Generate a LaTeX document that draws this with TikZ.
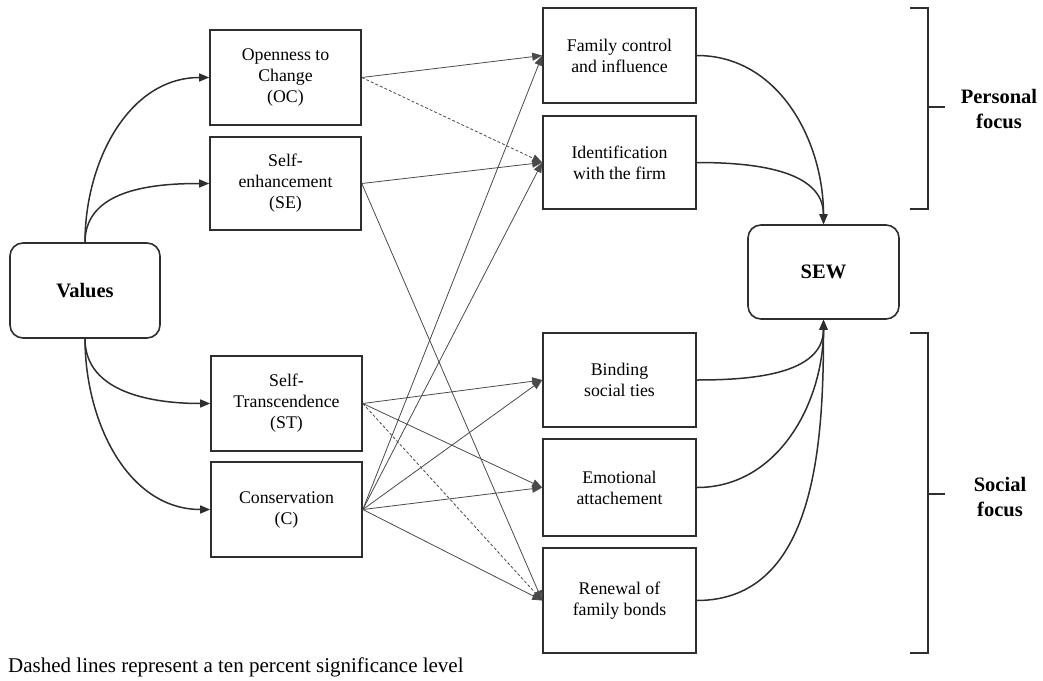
\documentclass[tikz,border=0pt]{standalone}
\usepackage{fontspec}
\setmainfont{Liberation Serif}
\usetikzlibrary{arrows.meta}
\definecolor{linegray}{HTML}{2E2E2E}
\definecolor{thingray}{HTML}{4A4A4A}
\tikzset{
  box/.style={draw=linegray, line width=1.6pt, align=center, inner sep=0pt,
    minimum width=151pt, font=\fontsize{17.8}{21}\selectfont},
  rbox/.style={box, rounded corners=13pt, font=\fontsize{20.5}{24}\selectfont\bfseries},
  thick arrow/.style={draw=linegray, line width=1.5pt, -{Triangle[length=10pt,width=8pt]}},
  thin arrow/.style={draw=thingray, line width=0.8pt, -{Triangle[length=10pt,width=8pt]}},
  dash arrow/.style={thin arrow, dash pattern=on 3pt off 2pt},
  brack/.style={draw=linegray, line width=1.6pt},
  focus/.style={align=center, font=\fontsize{20.5}{25}\selectfont\bfseries}
}
\begin{document}
\begin{tikzpicture}[x=1pt,y=-1pt]
\useasboundingbox (0,0) rectangle (1043,680);
% left column
\node[rbox, minimum width=150pt, minimum height=95pt] (val) at (85,290.5) {Values};
\node[box, minimum height=95pt] (oc) at (285.5,77.5) {Openness to\\Change\\(OC)};
\node[box, minimum height=93pt] (se) at (285.5,183.5) {Self-\\enhancement\\(SE)};
\node[box, minimum height=95pt] (st) at (286.5,403.5) {Self-\\Transcendence\\(ST)};
\node[box, minimum height=95pt] (co) at (286.5,509.5) {Conservation\\(C)};
% middle column
\node[box, minimum width=153pt, minimum height=95pt] (fc) at (619.5,55.5) {Family control\\and influence};
\node[box, minimum width=153pt, minimum height=93pt] (id) at (619.5,162.5) {Identification\\with the firm};
\node[box, minimum width=153pt, minimum height=94pt] (bs) at (619.5,380) {Binding\\social ties};
\node[box, minimum width=153pt, minimum height=97pt] (ea) at (619.5,487.5) {Emotional\\attachement};
\node[box, minimum width=153pt, minimum height=105pt] (rf) at (619.5,600.5) {Renewal of\\family bonds};
% SEW
\node[rbox, minimum width=151pt, minimum height=94pt] (sew) at (823.5,272) {SEW};
% Values to left column
\draw[thick arrow] (val.north) to[out=90,in=180] (oc.west);
\draw[thick arrow] (val.north) to[out=90,in=180] (se.west);
\draw[thick arrow] (val.south) to[out=-90,in=180] (st.west);
\draw[thick arrow] (val.south) to[out=-90,in=180] (co.west);
% left to middle
\draw[thin arrow] (oc.east) -- (fc.west);
\draw[dash arrow] (oc.east) -- (id.west);
\draw[thin arrow] (se.east) -- (id.west);
\draw[thin arrow] (se.east) -- (rf.west);
\draw[thin arrow] (st.east) -- (bs.west);
\draw[thin arrow] (st.east) -- (ea.west);
\draw[dash arrow] (st.east) -- (rf.west);
\draw[thin arrow] (co.east) -- (fc.west);
\draw[thin arrow] (co.east) -- (id.west);
\draw[thin arrow] (co.east) -- (bs.west);
\draw[thin arrow] (co.east) -- (ea.west);
\draw[thin arrow] (co.east) -- (rf.west);
% middle to SEW
\draw[thick arrow] (fc.east) to[out=0,in=90] (sew.north);
\draw[thick arrow] (id.east) to[out=0,in=90] (sew.north);
\draw[thick arrow] (bs.east) to[out=0,in=-90] (sew.south);
\draw[thick arrow] (ea.east) to[out=0,in=-90] (sew.south);
\draw[thick arrow] (rf.east) to[out=0,in=-90] (sew.south);
% brackets
\draw[brack] (910,8) -- (928,8) -- (928,209) -- (910,209);
\draw[brack] (928,107) -- (945,107);
\draw[brack] (910,333) -- (928,333) -- (928,653) -- (910,653);
\draw[brack] (928,494) -- (945,494);
\node[focus] (pf) at (999,109) {Personal\\focus};
\node[focus] (sf) at (1000,497) {Social\\focus};
% footnote
\node[anchor=base west, inner sep=0pt, font=\fontsize{21}{25}\selectfont] (note) at (8,672) {Dashed lines represent a ten percent significance level};
\end{tikzpicture}
\end{document}
